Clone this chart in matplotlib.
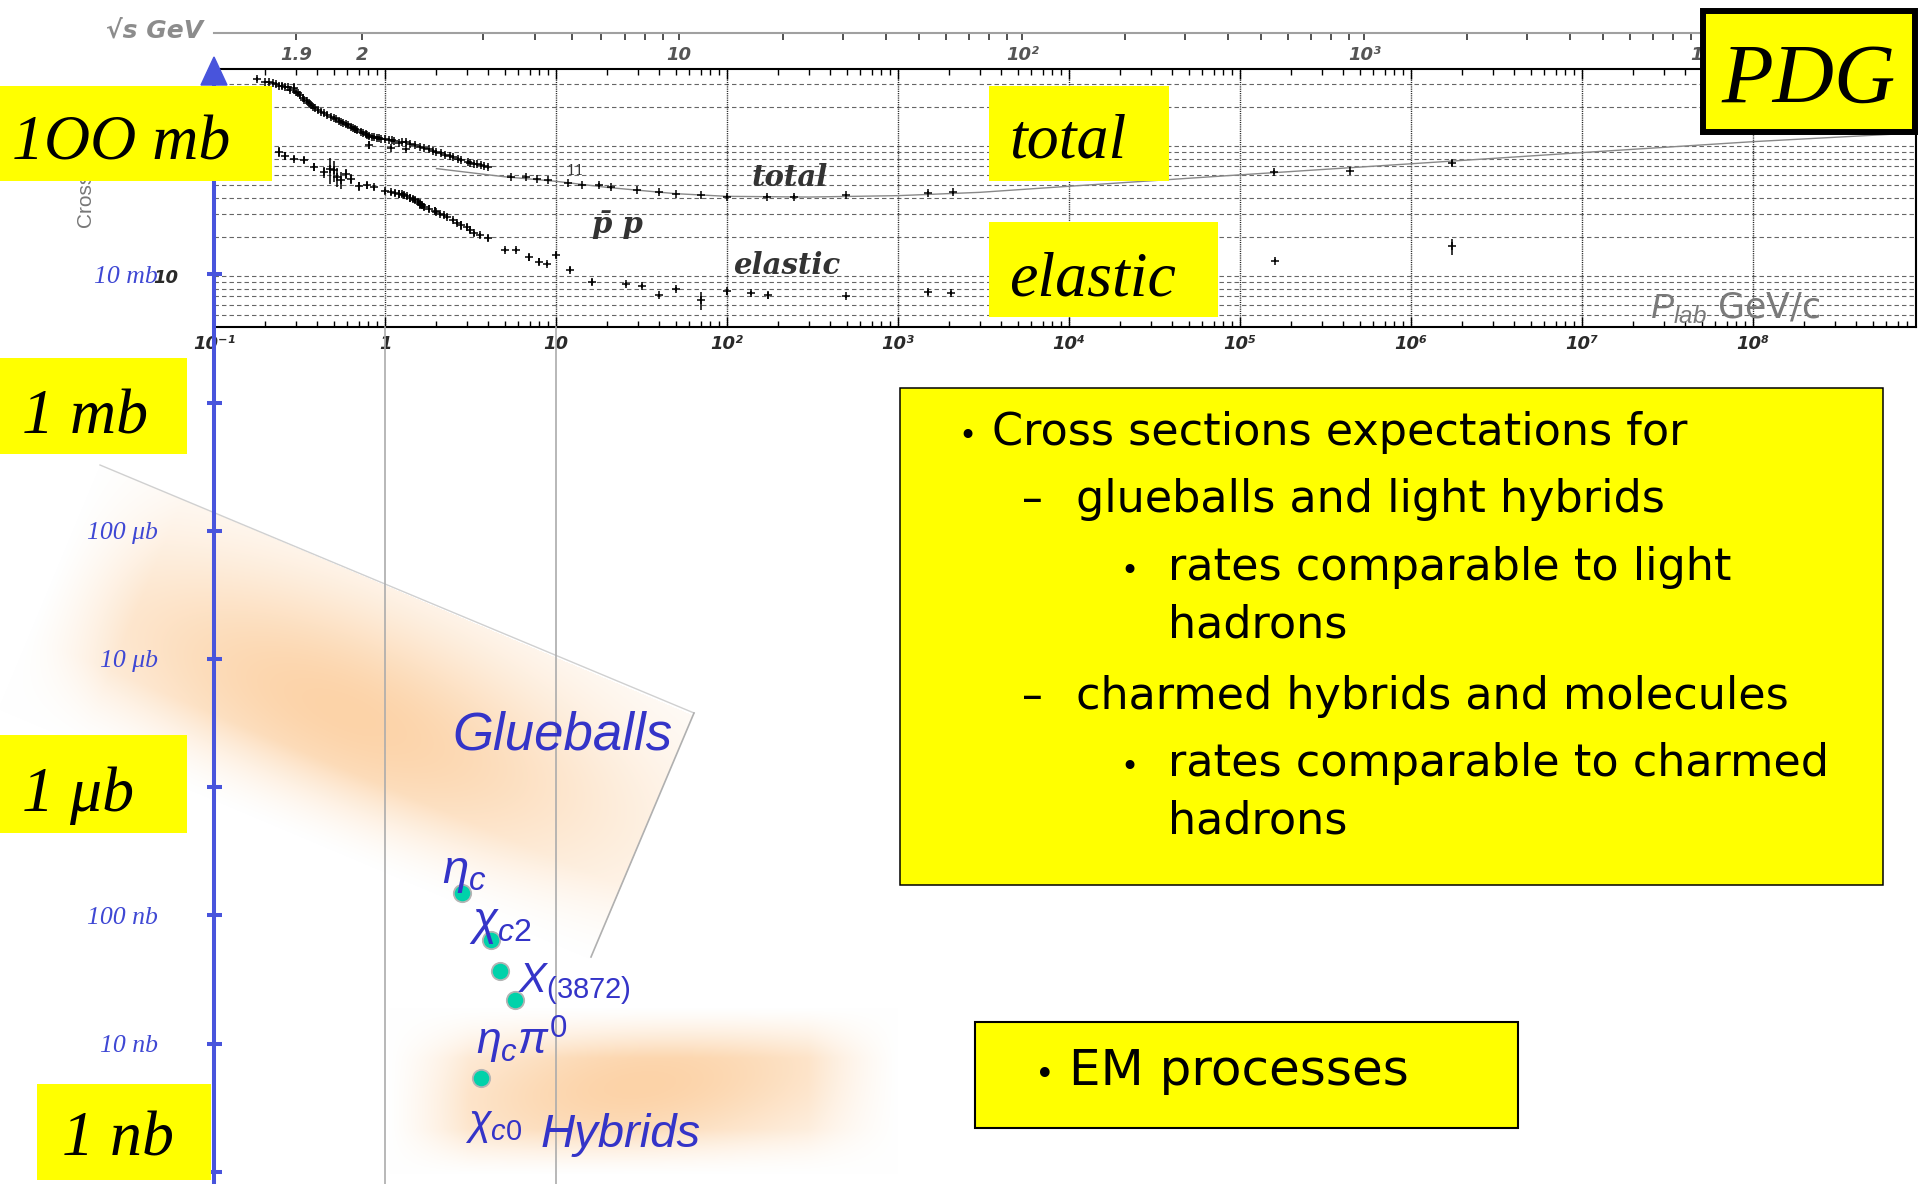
import numpy as np
import matplotlib
matplotlib.use("Agg")
import matplotlib.pyplot as plt
from matplotlib.patches import Rectangle, Polygon
from matplotlib.ticker import FixedLocator, NullLocator, NullFormatter, LogLocator

W, H, DPI = 1920, 1184, 100

plt.rcParams.update({
    "mathtext.fontset": "custom",
    "mathtext.rm": "Liberation Sans",
    "mathtext.it": "Liberation Sans:italic",
    "mathtext.bf": "Liberation Sans:bold",
    "lines.scale_dashes": False,
})

# ---------------------------------------------------------------- data
# p-bar p total cross section: p_lab [GeV/c], sigma [mb], error [mb]
total_plab = [0.178, 0.20, 0.21, 0.22, 0.23, 0.24, 0.25, 0.26, 0.27, 0.28,
              0.294, 0.30, 0.31, 0.32, 0.33, 0.337, 0.35, 0.36, 0.37, 0.38,
              0.39, 0.403, 0.42, 0.44, 0.46, 0.483, 0.50, 0.52, 0.54, 0.553,
              0.57, 0.59, 0.61, 0.63, 0.65, 0.67, 0.69, 0.72, 0.74, 0.77,
              0.79, 0.81, 0.81, 0.84, 0.86, 0.90, 0.92, 0.95, 1.00, 1.05,
              1.08, 1.10, 1.13, 1.20, 1.25, 1.33, 1.33, 1.40, 1.50, 1.60,
              1.70, 1.80, 1.90, 2.00, 2.13, 2.25, 2.40, 2.50, 2.66, 2.80,
              3.05, 3.15, 3.30, 3.45, 3.65, 3.80, 4.00,
              5.47, 6.7, 7.7, 9.0, 11.8, 14.1, 17.9, 21, 29.9, 40,
              50, 70, 100, 172, 246, 498, 1496, 2090, 1.58e5, 4.4e5, 1.74e6]
total_sigma = [327, 312, 308, 303, 298, 292, 290, 282, 285, 272,
               278, 262, 254, 246, 236, 226, 222, 215, 208, 200,
               196, 189, 184, 178, 174, 168, 165, 160, 157, 154,
               150, 147, 144, 141, 138, 135, 132, 129, 126, 124,
               121, 119, 102, 118, 117, 116, 115, 114, 113, 112,
               97, 111, 110, 106, 107, 108, 94, 104, 102, 99,
               96, 94, 92, 90, 88, 86, 84, 82, 80, 78,
               75.7, 74.5, 73, 72.5, 71.4, 70, 69,
               57.4, 58, 56, 54.7, 51.6, 50, 50.1, 48, 45.9, 44,
               42.7, 42, 40.7, 40.7, 40.7, 42, 43.7, 44, 63.4, 64.5, 74.5]
total_err = [12, 6, 6, 8, 5, 8, 15, 6, 6, 10,
             25, 8, 8, 6, 6, 8, 7, 6, 6, 6,
             5, 5, 6, 6, 6, 5, 5, 5, 5, 5,
             5, 6, 5, 5, 5, 8, 5, 5, 5, 6,
             5, 5, 8, 4, 4, 4, 4, 3, 3, 3,
             3, 3, 3, 3, 3, 4, 3, 3, 3, 3,
             3, 3, 3, 3, 3, 3, 3, 3, 3, 3,
             3, 2, 2, 2, 2, 2, 2,
             1, 1, 1, 1, 1, 1, 1.5, 1, 1, 1,
             1, 1, 1, 1, 1, 1, 1, 1, 2.5, 1, 4]

# p-bar p elastic cross section
elastic_plab = [0.24, 0.26, 0.294, 0.337, 0.385, 0.44, 0.48, 0.505, 0.527, 0.55,
                0.59, 0.63, 0.70, 0.78, 0.86, 1.00, 1.09, 1.15, 1.20, 1.25,
                1.30, 1.35, 1.40, 1.45, 1.49, 1.55, 1.60, 1.65, 1.70, 1.80,
                1.95, 2.00, 2.10, 2.20, 2.32, 2.50, 2.65, 2.78, 3.00, 3.15,
                3.33, 3.60, 3.99, 5.0, 5.84, 6.98, 8.0, 8.9, 10.0, 12.0,
                16.2, 25.6, 32, 40, 50, 70, 100, 138, 174, 498,
                1496, 2050, 1.6e5, 1.74e6]
elastic_sigma = [90, 84, 80, 78, 69, 63, 66, 65, 58, 55,
                 61, 56, 49, 50, 48, 45, 44, 43.5, 43, 42.5,
                 42, 41, 40, 39, 38.4, 37, 36, 35, 34, 33,
                 31.8, 31, 30, 29.5, 28.6, 27, 25.5, 24.7, 24, 22.5,
                 21.3, 20.5, 19.5, 15.8, 15.8, 13.9, 12.9, 12.4, 14.5, 11.2,
                 9.0, 8.7, 8.4, 7.1, 7.9, 6.5, 7.6, 7.4, 7.1, 7.0,
                 7.5, 7.4, 13.1, 17.0]
elastic_err = [8, 6, 4, 4, 5, 6, 15, 12, 10, 8,
               5, 5, 4, 3, 2, 2, 2, 2, 3, 2,
               2, 2, 3, 2, 2, 2, 3, 2, 2, 2,
               2, 1, 1, 1, 1, 1, 1, 2, 1, 1,
               1, 1, 1, 0.5, 0.5, 0.8, 0.8, 0.5, 0.7, 0.5,
               0.4, 0.3, 0.3, 0.2, 0.3, 1.0, 0.4, 0.3, 0.4, 0.2,
               0.3, 0.2, 0.3, 2.4]

# fitted total cross section curve
fit_plab = [2, 5, 10, 20, 50, 100, 300, 1000, 3000, 1e4, 1e5, 1e6, 1e7, 1e8, 9e8]
fit_sigma = [67, 58, 53.5, 48, 43, 41, 40.5, 41.5, 44, 49, 60, 73, 89, 108, 126]

# expected formation cross sections of charmonium-like states
state_plab = [2.82, 4.16, 4.71, 5.73, 3.66]
state_sigma_nb = [150, 64, 37, 22, 5.4]

# axis ticks and labels
sigma_ticks_nb = [1, 10, 100, 1e3, 1e4, 1e5, 1e6, 1e7, 1e8]
sigma_tick_labels = ["1 nb", "10 nb", "100 nb", "1 μb", "10 μb", "100 μb",
                     "1 mb", "10 mb", "100 mb"]
plab_ticks = [1e-1, 1, 10, 1e2, 1e3, 1e4, 1e5, 1e6, 1e7, 1e8]
plab_labels = ["10⁻¹", "1", "10", "10²", "10³", "10⁴", "10⁵", "10⁶", "10⁷", "10⁸"]
pdg_y_ticks = [10, 100]
pdg_y_labels = ["10", "10²"]
sqrts_major = [1.9, 2, 10, 100, 1000, 10000]
sqrts_major_labels = ["1.9", "2", "10", "10²", "10³", "10⁴"]
sqrts_minor = [3, 4, 5, 6, 7, 8, 9, 20, 30, 40, 50, 60, 70, 80, 90,
               200, 300, 400, 500, 600, 700, 800, 900,
               2000, 3000, 4000, 5000, 6000, 7000, 8000, 9000,
               20000, 30000, 40000]
pdg_hgrid = [5, 6, 7, 8, 9, 10, 20, 30, 40, 50, 60, 70, 80, 90, 100, 200, 300]

# ---------------------------------------------------------------- layout (pixels)
X0, X1 = 214, 1916            # p_lab axis extent
PX_DEC = 171.0                # pixels per decade of p_lab
XMIN = 0.1
XMAX = 10 ** (-1 + (X1 - X0) / PX_DEC)

PDG_TOP, PDG_BOT = 69, 327
PDG_Y10, PDG_DEC = 276, 130.0

SIG_TOP = 74
SIG_1NB, SIG_DEC = 1171.7, 128.2

BLUE = "#4854dc"
LBLUE = "#3434c8"
YELLOW = "#ffff00"
M_P = 0.938272


def fx(x):
    return x / W


def fy(y):
    return 1 - y / H


def plab_from_sqrts(rs):
    e = (np.asarray(rs, float) ** 2 - 2 * M_P ** 2) / (2 * M_P)
    return np.sqrt(e ** 2 - M_P ** 2)


fig = plt.figure(figsize=(W / DPI, H / DPI), dpi=DPI)

# ---------------------------------------------------------------- shaded bands
bg = fig.add_axes([0, 0, 1, 1], zorder=0)
yy, xx = np.mgrid[0:H, 0:W].astype(float) + 0.5

A = np.array([100.0, 465.0]); B = np.array([694.0, 713.0]); C = np.array([591.0, 957.0])
u = B - A; L = np.hypot(*u); u = u / L
v = C - B; Wd = np.hypot(*v); v = v / Wd
s = (xx - A[0]) * u[0] + (yy - A[1]) * u[1]
t = (xx - A[0]) * v[0] + (yy - A[1]) * v[1]
inside = (s >= 0) & (s <= L) & (t >= 0) & (t <= Wd)
g1 = np.exp(-0.5 * ((s - 0.50 * L) / (0.33 * L)) ** 2 - 0.5 * ((t - 0.50 * Wd) / (0.30 * Wd)) ** 2)
soft1 = np.clip((Wd - t) / 80, 0, 1) * np.clip(s / 90, 0, 1)
w1 = np.where(inside, (0.035 + 0.965 * g1) * soft1, 0.0)

th = np.deg2rad(7)
dx = xx - 640; dy = yy - 1085
sh = dx * np.cos(th) - dy * np.sin(th)
tv = dx * np.sin(th) + dy * np.cos(th)
g2 = np.exp(-0.5 * (sh / 165) ** 2 - 0.5 * (tv / 60) ** 2)
m2 = (np.clip((xx - 389) / 80, 0, 1) * np.clip((898 - xx) / 90, 0, 1)
      * np.clip((yy - 1008) / 50, 0, 1) * np.clip((1174 - yy) / 45, 0, 1))
w2 = (0.06 + 0.94 * g2) * m2

wt = np.maximum(w1, w2)[..., None]
peak = np.array([252, 211, 168]) / 255.0
img = 1 - wt * (1 - peak)
bg.imshow(img, extent=(0, W, H, 0), interpolation="bilinear", aspect="auto")
bg.plot([A[0], B[0]], [A[1], B[1]], color="#d0d0d0", lw=1.0)
bg.plot([B[0], C[0]], [B[1], C[1]], color="#b0b0b0", lw=1.2)
bg.set_xlim(0, W); bg.set_ylim(H, 0); bg.axis("off")

# ---------------------------------------------------------------- PDG panel
pdg = fig.add_axes([fx(X0), fy(PDG_BOT), (X1 - X0) / W, (PDG_BOT - PDG_TOP) / H], zorder=3)
pdg.set_xscale("log"); pdg.set_yscale("log")
pdg.set_xlim(XMIN, XMAX)
pdg.set_ylim(10 ** (1 - (PDG_BOT - PDG_Y10) / PDG_DEC), 10 ** (1 + (PDG_Y10 - PDG_TOP) / PDG_DEC))
for yv in pdg_hgrid:
    pdg.axhline(yv, color="#666666", lw=0.8, ls=(0, (3.2, 2.2)), zorder=1)
for xv in plab_ticks[1:]:
    pdg.axvline(xv, color="#222222", lw=1.0, ls=(0, (0.8, 0.8)), zorder=1)
pdg.plot(fit_plab, fit_sigma, color="#888888", lw=1.0, zorder=2)
pdg.errorbar(total_plab, total_sigma, yerr=total_err, fmt="+", ms=6, mew=1.1,
             elinewidth=1.1, color="black", capsize=0, zorder=3)
pdg.errorbar(elastic_plab, elastic_sigma, yerr=elastic_err, fmt="+", ms=6, mew=1.1,
             elinewidth=1.1, color="black", capsize=0, zorder=3)
tick_font = dict(fontsize=13, fontweight="bold", fontstyle="oblique", color="#2a2a2a",
                 family="DejaVu Sans")
pdg.xaxis.set_major_locator(FixedLocator(plab_ticks))
pdg.xaxis.set_minor_locator(LogLocator(base=10, subs=np.arange(2, 10), numticks=200))
pdg.xaxis.set_minor_formatter(NullFormatter())
pdg.set_xticks(plab_ticks)
pdg.set_xticklabels(plab_labels, **tick_font)
pdg.yaxis.set_major_locator(FixedLocator(pdg_y_ticks))
pdg.yaxis.set_minor_locator(NullLocator())
pdg.set_yticklabels(pdg_y_labels, **tick_font)
pdg.tick_params(axis="x", which="major", direction="in", top=True, bottom=True,
                length=7, width=1.0, pad=6)
pdg.tick_params(axis="x", which="minor", direction="in", top=True, bottom=True,
                length=4.5, width=1.0)
pdg.tick_params(axis="y", which="both", length=0, pad=26, left=True, right=False)
for sp in pdg.spines.values():
    sp.set_linewidth(1.5)
    sp.set_color("black")

# ---------------------------------------------------------------- sqrt(s) scale
sq = fig.add_axes([fx(X0), fy(33), (X1 - X0) / W, 0.0005], zorder=3)
sq.set_xscale("log"); sq.set_xlim(XMIN, XMAX)
sq.patch.set_alpha(0)
for k in ("left", "right", "top"):
    sq.spines[k].set_visible(False)
sq.spines["bottom"].set_color("#a0a0a0"); sq.spines["bottom"].set_linewidth(1.5)
sq.set_yticks([])
minor_pos = [p for p in plab_from_sqrts(sqrts_minor) if p <= XMAX]
sq.xaxis.set_major_locator(FixedLocator(plab_from_sqrts(sqrts_major)))
sq.xaxis.set_minor_locator(FixedLocator(minor_pos))
sq.xaxis.set_minor_formatter(NullFormatter())
sq.set_xticklabels(sqrts_major_labels, fontsize=13, fontweight="bold", fontstyle="oblique",
                   color="#555555", family="DejaVu Sans")
sq.tick_params(axis="x", which="both", direction="out", length=5, width=1.2,
               color="#333333", pad=4)

# ---------------------------------------------------------------- cross-section axis
sig = fig.add_axes([fx(X0), 0, (X1 - X0) / W, (H - SIG_TOP) / H], zorder=4)
sig.patch.set_alpha(0)
sig.set_xscale("log"); sig.set_yscale("log")
sig.set_xlim(XMIN, XMAX)
sig.set_ylim(10 ** (-(H - SIG_1NB) / SIG_DEC), 10 ** ((SIG_1NB - SIG_TOP) / SIG_DEC))
for k in ("right", "top", "bottom"):
    sig.spines[k].set_visible(False)
sig.spines["left"].set_color(BLUE); sig.spines["left"].set_linewidth(2.9)
sig.xaxis.set_major_locator(NullLocator()); sig.xaxis.set_minor_locator(NullLocator())
sig.yaxis.set_major_locator(FixedLocator(sigma_ticks_nb))
sig.yaxis.set_minor_locator(NullLocator())
sig.set_yticklabels(sigma_tick_labels, fontsize=18.5, fontstyle="italic",
                    family="Liberation Serif", color="#3f48d4")
sig.tick_params(axis="y", which="major", direction="inout", length=10.8, width=2.9,
                color=BLUE, pad=35)
frac = (H - PDG_BOT) / (H - SIG_TOP)
for xv in (1, 10):
    sig.axvline(xv, ymin=0, ymax=frac, color="#acacac", lw=1.2, zorder=1)
sig.scatter(state_plab, state_sigma_nb, s=12.5 ** 2, c="#00d2aa", edgecolors="#b4b4b4",
            linewidths=1.3, zorder=5)

# ---------------------------------------------------------------- annotations
ov = fig.add_axes([0, 0, 1, 1], zorder=10)
ov.patch.set_alpha(0)
ov.set_xlim(0, W); ov.set_ylim(H, 0); ov.axis("off")

ov.add_patch(Polygon([(201, 85), (214, 57), (227, 85)], closed=True, color=BLUE, zorder=5))

ov.text(86, 228, "Cross section", rotation=90, ha="center", va="bottom", fontsize=15,
        color="#777777", family="Liberation Sans", zorder=2)
ov.text(203, 31, "√s GeV", ha="right", va="center", fontsize=18, fontweight="bold",
        fontstyle="oblique", color="#8c8c8c", family="DejaVu Sans", zorder=2)

pdg_font = dict(family="DejaVu Serif", fontweight="bold", fontstyle="italic", color="#333333",
                zorder=2)
ov.text(752, 186, "total", fontsize=21, va="baseline", ha="left", **pdg_font)
ov.text(733, 274, "elastic", fontsize=21, va="baseline", ha="left", **pdg_font)
ov.text(592, 233, "p̄ p", fontsize=21, va="baseline", ha="left", **pdg_font)
ov.text(566, 175, "11", fontsize=10, va="baseline", ha="left", family="DejaVu Serif",
        color="#333333", zorder=2)
ov.text(1650, 318, r"$P_{lab}$ GeV/c", fontsize=25, va="baseline", ha="left",
        color="#7a7a7a", zorder=2)


def ybox(x0, y0, x1, y1, edge=None, lw=0):
    ov.add_patch(Rectangle((x0, y0), x1 - x0, y1 - y0, facecolor=YELLOW,
                           edgecolor=edge if edge else "none", linewidth=lw, zorder=10))


serif = dict(family="Liberation Serif", fontstyle="italic", color="black", va="baseline",
             ha="left", zorder=11)
ybox(0, 86, 272, 181)
ov.text(12, 159, "1OO mb", fontsize=46, **serif)
ybox(0, 358, 187, 454)
ov.text(22, 434, "1 mb", fontsize=46, **serif)
ybox(0, 735, 187, 833)
ov.text(22, 811, "1 μb", fontsize=46, **serif)
ybox(37, 1084, 211, 1180)
ov.text(62, 1156, "1 nb", fontsize=46, **serif)
ybox(989, 86, 1169, 181)
ov.text(1009, 158, "total", fontsize=46, **serif)
ybox(989, 222, 1218, 317)
ov.text(1009, 295, "elastic", fontsize=46, **serif)
ybox(1703, 11, 1915, 132, edge="black", lw=4.3)
ov.text(1721, 103, "PDG", fontsize=61, **serif)

# bullet list
ybox(900, 388, 1883, 885, edge="black", lw=1.1)
body = dict(family="DejaVu Sans", color="black", va="baseline", ha="left", zorder=11)
lines = [
    (958, 992, 445, "•", "Cross sections expectations for"),
    (1022, 1076, 512, "–", "glueballs and light hybrids"),
    (1120, 1168, 580, "•", "rates comparable to light"),
    (None, 1168, 638, None, "hadrons"),
    (1022, 1076, 709, "–", "charmed hybrids and molecules"),
    (1120, 1168, 776, "•", "rates comparable to charmed"),
    (None, 1168, 834, None, "hadrons"),
]
for bx, tx, by, mark, txt in lines:
    if mark:
        ov.text(bx, by, mark, fontsize=22 if mark == "•" else 30, **body)
    ov.text(tx, by, txt, fontsize=32, **body)

ybox(975, 1022, 1518, 1128, edge="black", lw=1.5)
ov.text(1035, 1085, "•", fontsize=24, **body)
ov.text(1069, 1085, "EM processes", fontsize=36, **body)

# state and region labels
lab = dict(color=LBLUE, va="baseline", ha="left", zorder=8)
ov.text(452, 750, "Glueballs", fontsize=38, family="Liberation Sans", fontstyle="italic", **lab)
ov.text(442, 883, r"$\eta_c$", fontsize=34, **lab)
ov.text(469, 934, r"$\chi_{c2}$", fontsize=33, **lab)
ov.text(518, 992, r"$X_{(3872)}$", fontsize=30, **lab)
ov.text(476, 1055, r"$\eta_c\pi^0$", fontsize=32, **lab)
ov.text(465, 1134, r"$\chi_{c0}$", fontsize=30, **lab)
ov.text(541, 1147, "Hybrids", fontsize=34, family="Liberation Sans", fontstyle="italic", **lab)

fig.savefig("out.png", dpi=DPI)
